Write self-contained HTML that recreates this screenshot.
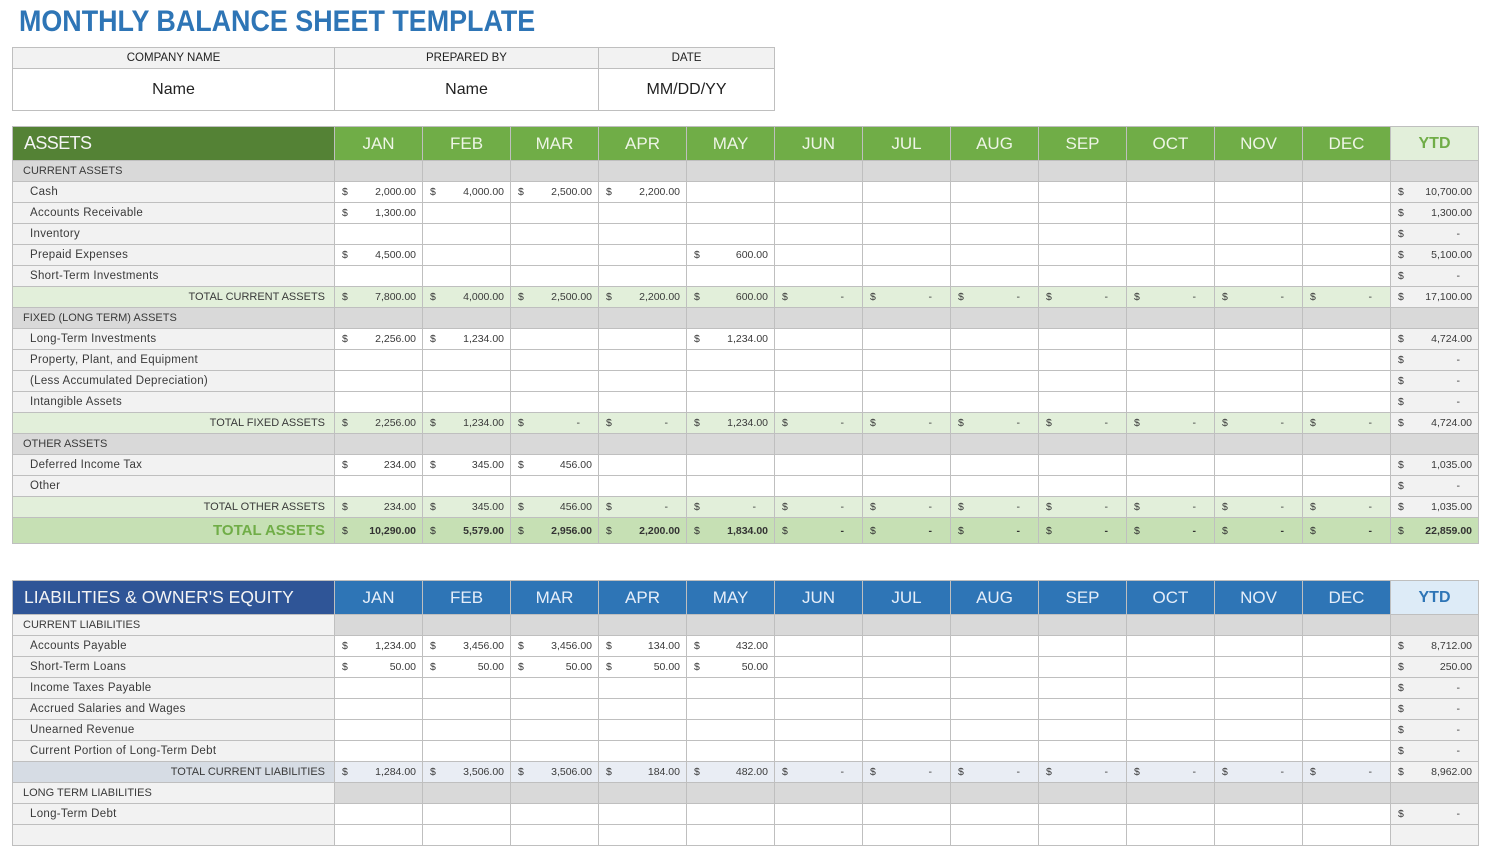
<!DOCTYPE html>
<html>
<head>
<meta charset="utf-8">
<style>
*{box-sizing:border-box}
body{margin:0;background:#fff;width:1491px;height:826px;overflow:hidden;position:relative;font-family:"Liberation Sans",sans-serif;color:#3a3a3a}
.title{position:absolute;left:19px;top:7px;font-size:30px;line-height:30px;font-weight:bold;color:#2e75b6;white-space:nowrap;transform:scaleX(0.896);transform-origin:0 0}
table.info{position:absolute;left:12px;top:47px;border-collapse:collapse;table-layout:fixed;width:763px}
table.info td{border:1px solid #bfbfbf;padding:0;text-align:center;color:#222;white-space:nowrap}
table.info tr.ih td{background:#f2f2f2;font-size:11.5px;height:21px}
table.info tr.iv td{background:#fff;font-size:16px;height:42px}
table.g{position:absolute;left:12px;border-collapse:collapse;table-layout:fixed;width:1467px}
table.g td{border:1px solid #bfbfbf;padding:0;white-space:nowrap;overflow:hidden;font-size:10.5px;background:#fff;color:#3a3a3a}
table.g tr{height:21px}
table.g tr.h{height:34px}
table.g tr.h td{font-size:17px;text-align:center;color:#eef5e6;background:#70ad47}
table.g tr.h td.hl{text-align:left;padding-left:11px;font-size:18px;background:#548235;color:#f4f4f4;letter-spacing:-0.6px}
table.g tr.h td.yt{background:#e2efda;color:#70ad47;font-weight:bold;font-size:16px}
table.g.lia tr.h td{background:#2e75b6;color:#e6eef9}
table.g.lia tr.h td.hl{background:#2f5597;color:#f4f4f4;font-size:17.5px;letter-spacing:0}
table.g.lia tr.h td.yt{background:#ddebf7;color:#2e75b6}
td.m{text-align:right;padding-right:6px !important}
td.m i{float:left;font-style:normal;padding-left:7px}
td.d{padding-right:18px !important}
tr.sec td{background:#d9d9d9 !important}
tr.sec td:first-child{padding-left:10px;font-size:11px}
tr.lsec td{background:#d9d9d9 !important}
tr.lsec td:first-child{padding-left:10px;font-size:11px;background:#f2f2f2 !important}
tr.it td:first-child{background:#f2f2f2;padding-left:17px;font-size:11.5px;letter-spacing:0.3px}
tr.it td:last-child{background:#f2f2f2}
tr.tot td{background:#e2efda}
tr.tot td:first-child{text-align:right;padding-right:9px;font-size:11px}
tr.tot td:last-child{background:#f2f2f2}
table.g tr.ta{height:26px}
tr.ta td{background:#c6e0b4 !important;font-weight:bold;color:#333 !important}
tr.ta td:first-child{text-align:right;padding-right:9px;font-size:15px;color:#70ad47 !important}
tr.ta td i{font-weight:normal}
tr.lt td{background:#e9edf4}
tr.lt td:first-child{background:#d6dce4;text-align:right;padding-right:9px;font-size:11px}
tr.lt td:last-child{background:#f2f2f2}
</style>
</head>
<body>
<div class="title">MONTHLY BALANCE SHEET TEMPLATE</div>

<table class="info">
<colgroup><col style="width:322px"><col style="width:264px"><col style="width:176px"></colgroup>
<tr class="ih"><td>COMPANY NAME</td><td>PREPARED BY</td><td>DATE</td></tr>
<tr class="iv"><td>Name</td><td>Name</td><td>MM/DD/YY</td></tr>
</table>

<table class="g" style="top:126px">
<colgroup><col style="width:322px"><col style="width:88px"><col style="width:88px"><col style="width:88px"><col style="width:88px"><col style="width:88px"><col style="width:88px"><col style="width:88px"><col style="width:88px"><col style="width:88px"><col style="width:88px"><col style="width:88px"><col style="width:88px"><col style="width:88px"></colgroup>
<tr class="h"><td class="hl">ASSETS</td><td>JAN</td><td>FEB</td><td>MAR</td><td>APR</td><td>MAY</td><td>JUN</td><td>JUL</td><td>AUG</td><td>SEP</td><td>OCT</td><td>NOV</td><td>DEC</td><td class="yt">YTD</td></tr>
<tr class="sec"><td>CURRENT ASSETS</td><td></td><td></td><td></td><td></td><td></td><td></td><td></td><td></td><td></td><td></td><td></td><td></td><td></td></tr>
<tr class="it"><td>Cash</td><td class="m"><i>$</i>2,000.00</td><td class="m"><i>$</i>4,000.00</td><td class="m"><i>$</i>2,500.00</td><td class="m"><i>$</i>2,200.00</td><td></td><td></td><td></td><td></td><td></td><td></td><td></td><td></td><td class="m"><i>$</i>10,700.00</td></tr>
<tr class="it"><td>Accounts Receivable</td><td class="m"><i>$</i>1,300.00</td><td></td><td></td><td></td><td></td><td></td><td></td><td></td><td></td><td></td><td></td><td></td><td class="m"><i>$</i>1,300.00</td></tr>
<tr class="it"><td>Inventory</td><td></td><td></td><td></td><td></td><td></td><td></td><td></td><td></td><td></td><td></td><td></td><td></td><td class="m d"><i>$</i>-</td></tr>
<tr class="it"><td>Prepaid Expenses</td><td class="m"><i>$</i>4,500.00</td><td></td><td></td><td></td><td class="m"><i>$</i>600.00</td><td></td><td></td><td></td><td></td><td></td><td></td><td></td><td class="m"><i>$</i>5,100.00</td></tr>
<tr class="it"><td>Short-Term Investments</td><td></td><td></td><td></td><td></td><td></td><td></td><td></td><td></td><td></td><td></td><td></td><td></td><td class="m d"><i>$</i>-</td></tr>
<tr class="tot"><td>TOTAL CURRENT ASSETS</td><td class="m"><i>$</i>7,800.00</td><td class="m"><i>$</i>4,000.00</td><td class="m"><i>$</i>2,500.00</td><td class="m"><i>$</i>2,200.00</td><td class="m"><i>$</i>600.00</td><td class="m d"><i>$</i>-</td><td class="m d"><i>$</i>-</td><td class="m d"><i>$</i>-</td><td class="m d"><i>$</i>-</td><td class="m d"><i>$</i>-</td><td class="m d"><i>$</i>-</td><td class="m d"><i>$</i>-</td><td class="m"><i>$</i>17,100.00</td></tr>
<tr class="sec"><td>FIXED (LONG TERM) ASSETS</td><td></td><td></td><td></td><td></td><td></td><td></td><td></td><td></td><td></td><td></td><td></td><td></td><td></td></tr>
<tr class="it"><td>Long-Term Investments</td><td class="m"><i>$</i>2,256.00</td><td class="m"><i>$</i>1,234.00</td><td></td><td></td><td class="m"><i>$</i>1,234.00</td><td></td><td></td><td></td><td></td><td></td><td></td><td></td><td class="m"><i>$</i>4,724.00</td></tr>
<tr class="it"><td>Property, Plant, and Equipment</td><td></td><td></td><td></td><td></td><td></td><td></td><td></td><td></td><td></td><td></td><td></td><td></td><td class="m d"><i>$</i>-</td></tr>
<tr class="it"><td>(Less Accumulated Depreciation)</td><td></td><td></td><td></td><td></td><td></td><td></td><td></td><td></td><td></td><td></td><td></td><td></td><td class="m d"><i>$</i>-</td></tr>
<tr class="it"><td>Intangible Assets</td><td></td><td></td><td></td><td></td><td></td><td></td><td></td><td></td><td></td><td></td><td></td><td></td><td class="m d"><i>$</i>-</td></tr>
<tr class="tot"><td>TOTAL FIXED ASSETS</td><td class="m"><i>$</i>2,256.00</td><td class="m"><i>$</i>1,234.00</td><td class="m d"><i>$</i>-</td><td class="m d"><i>$</i>-</td><td class="m"><i>$</i>1,234.00</td><td class="m d"><i>$</i>-</td><td class="m d"><i>$</i>-</td><td class="m d"><i>$</i>-</td><td class="m d"><i>$</i>-</td><td class="m d"><i>$</i>-</td><td class="m d"><i>$</i>-</td><td class="m d"><i>$</i>-</td><td class="m"><i>$</i>4,724.00</td></tr>
<tr class="sec"><td>OTHER ASSETS</td><td></td><td></td><td></td><td></td><td></td><td></td><td></td><td></td><td></td><td></td><td></td><td></td><td></td></tr>
<tr class="it"><td>Deferred Income Tax</td><td class="m"><i>$</i>234.00</td><td class="m"><i>$</i>345.00</td><td class="m"><i>$</i>456.00</td><td></td><td></td><td></td><td></td><td></td><td></td><td></td><td></td><td></td><td class="m"><i>$</i>1,035.00</td></tr>
<tr class="it"><td>Other</td><td></td><td></td><td></td><td></td><td></td><td></td><td></td><td></td><td></td><td></td><td></td><td></td><td class="m d"><i>$</i>-</td></tr>
<tr class="tot"><td>TOTAL OTHER ASSETS</td><td class="m"><i>$</i>234.00</td><td class="m"><i>$</i>345.00</td><td class="m"><i>$</i>456.00</td><td class="m d"><i>$</i>-</td><td class="m d"><i>$</i>-</td><td class="m d"><i>$</i>-</td><td class="m d"><i>$</i>-</td><td class="m d"><i>$</i>-</td><td class="m d"><i>$</i>-</td><td class="m d"><i>$</i>-</td><td class="m d"><i>$</i>-</td><td class="m d"><i>$</i>-</td><td class="m"><i>$</i>1,035.00</td></tr>
<tr class="ta"><td>TOTAL ASSETS</td><td class="m"><i>$</i>10,290.00</td><td class="m"><i>$</i>5,579.00</td><td class="m"><i>$</i>2,956.00</td><td class="m"><i>$</i>2,200.00</td><td class="m"><i>$</i>1,834.00</td><td class="m d"><i>$</i>-</td><td class="m d"><i>$</i>-</td><td class="m d"><i>$</i>-</td><td class="m d"><i>$</i>-</td><td class="m d"><i>$</i>-</td><td class="m d"><i>$</i>-</td><td class="m d"><i>$</i>-</td><td class="m"><i>$</i>22,859.00</td></tr>
</table>

<table class="g lia" style="top:580px">
<colgroup><col style="width:322px"><col style="width:88px"><col style="width:88px"><col style="width:88px"><col style="width:88px"><col style="width:88px"><col style="width:88px"><col style="width:88px"><col style="width:88px"><col style="width:88px"><col style="width:88px"><col style="width:88px"><col style="width:88px"><col style="width:88px"></colgroup>
<tr class="h"><td class="hl">LIABILITIES &amp; OWNER'S EQUITY</td><td>JAN</td><td>FEB</td><td>MAR</td><td>APR</td><td>MAY</td><td>JUN</td><td>JUL</td><td>AUG</td><td>SEP</td><td>OCT</td><td>NOV</td><td>DEC</td><td class="yt">YTD</td></tr>
<tr class="lsec"><td>CURRENT LIABILITIES</td><td></td><td></td><td></td><td></td><td></td><td></td><td></td><td></td><td></td><td></td><td></td><td></td><td></td></tr>
<tr class="it"><td>Accounts Payable</td><td class="m"><i>$</i>1,234.00</td><td class="m"><i>$</i>3,456.00</td><td class="m"><i>$</i>3,456.00</td><td class="m"><i>$</i>134.00</td><td class="m"><i>$</i>432.00</td><td></td><td></td><td></td><td></td><td></td><td></td><td></td><td class="m"><i>$</i>8,712.00</td></tr>
<tr class="it"><td>Short-Term Loans</td><td class="m"><i>$</i>50.00</td><td class="m"><i>$</i>50.00</td><td class="m"><i>$</i>50.00</td><td class="m"><i>$</i>50.00</td><td class="m"><i>$</i>50.00</td><td></td><td></td><td></td><td></td><td></td><td></td><td></td><td class="m"><i>$</i>250.00</td></tr>
<tr class="it"><td>Income Taxes Payable</td><td></td><td></td><td></td><td></td><td></td><td></td><td></td><td></td><td></td><td></td><td></td><td></td><td class="m d"><i>$</i>-</td></tr>
<tr class="it"><td>Accrued Salaries and Wages</td><td></td><td></td><td></td><td></td><td></td><td></td><td></td><td></td><td></td><td></td><td></td><td></td><td class="m d"><i>$</i>-</td></tr>
<tr class="it"><td>Unearned Revenue</td><td></td><td></td><td></td><td></td><td></td><td></td><td></td><td></td><td></td><td></td><td></td><td></td><td class="m d"><i>$</i>-</td></tr>
<tr class="it"><td>Current Portion of Long-Term Debt</td><td></td><td></td><td></td><td></td><td></td><td></td><td></td><td></td><td></td><td></td><td></td><td></td><td class="m d"><i>$</i>-</td></tr>
<tr class="lt"><td>TOTAL CURRENT LIABILITIES</td><td class="m"><i>$</i>1,284.00</td><td class="m"><i>$</i>3,506.00</td><td class="m"><i>$</i>3,506.00</td><td class="m"><i>$</i>184.00</td><td class="m"><i>$</i>482.00</td><td class="m d"><i>$</i>-</td><td class="m d"><i>$</i>-</td><td class="m d"><i>$</i>-</td><td class="m d"><i>$</i>-</td><td class="m d"><i>$</i>-</td><td class="m d"><i>$</i>-</td><td class="m d"><i>$</i>-</td><td class="m"><i>$</i>8,962.00</td></tr>
<tr class="lsec"><td>LONG TERM LIABILITIES</td><td></td><td></td><td></td><td></td><td></td><td></td><td></td><td></td><td></td><td></td><td></td><td></td><td></td></tr>
<tr class="it"><td>Long-Term Debt</td><td></td><td></td><td></td><td></td><td></td><td></td><td></td><td></td><td></td><td></td><td></td><td></td><td class="m d"><i>$</i>-</td></tr>
<tr class="it"><td>&nbsp;</td><td></td><td></td><td></td><td></td><td></td><td></td><td></td><td></td><td></td><td></td><td></td><td></td><td></td></tr>
</table>
</body>
</html>
